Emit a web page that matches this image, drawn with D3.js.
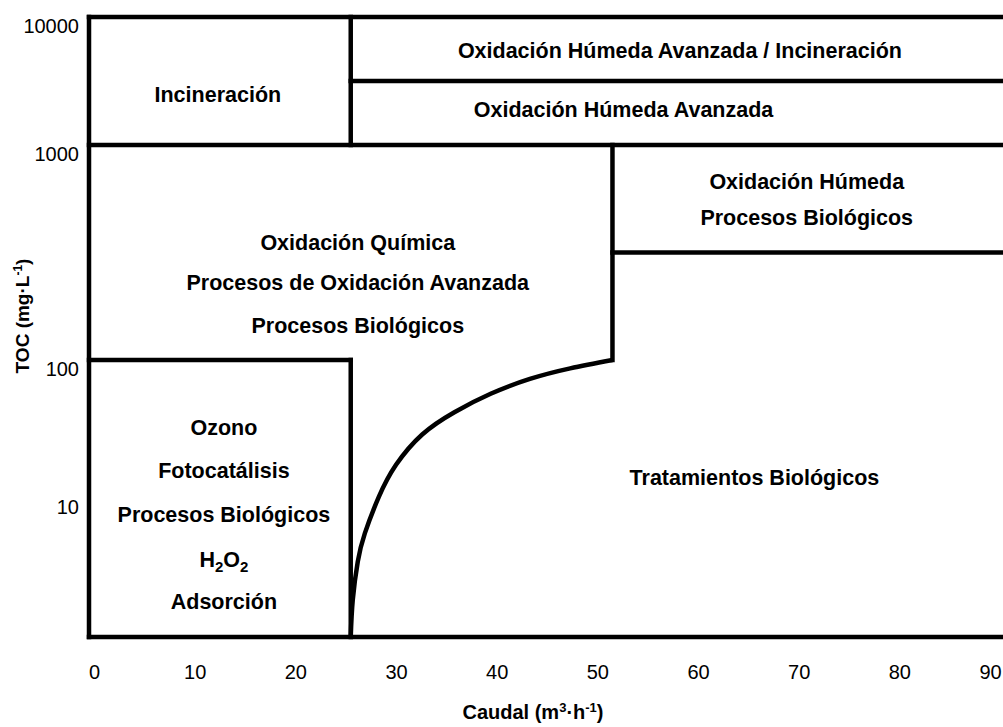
<html lang="es">
  <head>
    <meta charset="UTF-8" />
    <title>TOC vs Caudal</title>
    <script src="https://d3js.org/d3.v7.min.js"></script>
    <style>
      * {
        margin: 0;
        padding: 0;
      }
      body {
        background: #fff;
      }
      svg text {
        font-family: "Liberation Sans", Arial, sans-serif;
        fill: #000;
      }
    </style>
  </head>

  <body>
    <div id="chart"></div>
    <script>
      // axis ticks
      const caudalTicks = [0, 10, 20, 30, 40, 50, 60, 70, 80, 90];
      const tocTicks = [10, 100, 1000, 10000];

      // the frame runs past the right edge of the picture
      const caudalMax = 92;

      // region borders: [caudal1, toc1, caudal2, toc2]
      const borders = [
        [0, 1, 0, 10000],
        [0, 10000, caudalMax, 10000],
        [0, 1, caudalMax, 1],
        [26, 1000, 26, 10000],
        [26, 3162, caudalMax, 3162],
        [0, 1000, caudalMax, 1000],
        [52, 100, 52, 1000],
        [52, 316, caudalMax, 316],
        [0, 100, 26, 100],
        [26, 1, 26, 100],
      ];

      // curved border between the low-flow zone and biological treatment
      const curveCaudal = [26, 26.2, 26.7, 27.4, 28.8, 30.5, 33.1, 36.3, 39.9, 43.8, 47.8, 52];
      const curveToc = [1, 1.85, 3.5, 5.6, 10.3, 17.5, 29, 42, 57, 73, 87, 100];

      // region names, one entry per text line (anchor = baseline centre)
      const labelText = [
        "Incineración",
        "Oxidación Húmeda Avanzada / Incineración",
        "Oxidación Húmeda Avanzada",
        "Oxidación Húmeda",
        "Procesos Biológicos",
        "Oxidación Química",
        "Procesos de Oxidación Avanzada",
        "Procesos Biológicos",
        "Ozono",
        "Fotocatálisis",
        "Procesos Biológicos",
        "H2O2",
        "Adsorción",
        "Tratamientos Biológicos",
      ];
      const labelCaudal = [12.8, 58.7, 53.1, 71.3, 71.3, 26.7, 26.7, 26.7, 13.4, 13.4, 13.4, 13.4, 13.4, 66.1];
      const labelToc = [2168, 4786, 1656, 624, 424, 325, 212, 134, 28.7, 14.1, 6.77, 3.2, 1.59, 12.5];

      const width = 1003;
      const height = 727;

      const svg = d3
        .select("#chart")
        .append("svg")
        .attr("width", width)
        .attr("height", height);

      svg.append("rect").attr("width", width).attr("height", height).attr("fill", "#fff");

      const x = d3.scaleLinear().domain([0, 90]).range([89, 995]);

      // decades are not evenly spaced in the original drawing
      const yLog = d3.scaleLinear().domain([0, 2, 3, 4]).range([637, 360, 145, 17]);
      const y = (v) => yLog(Math.log10(v));

      // borders
      svg
        .append("g")
        .selectAll("line")
        .data(borders)
        .join("line")
        .attr("x1", (d) => x(d[0]))
        .attr("y1", (d) => y(d[1]))
        .attr("x2", (d) => x(d[2]))
        .attr("y2", (d) => y(d[3]))
        .attr("stroke", "#000")
        .attr("stroke-width", 4.5)
        .attr("stroke-linecap", "square");

      const curvePts = curveCaudal.map((c, i) => [c, curveToc[i]]);
      const line = d3
        .line()
        .x((d) => x(d[0]))
        .y((d) => y(d[1]))
        .curve(d3.curveNatural);

      svg
        .append("path")
        .attr("d", line(curvePts))
        .attr("fill", "none")
        .attr("stroke", "#000")
        .attr("stroke-width", 4.5);

      // region labels
      const labels = svg
        .append("g")
        .selectAll("text")
        .data(labelText)
        .join("text")
        .attr("x", (d, i) => x(labelCaudal[i]))
        .attr("y", (d, i) => y(labelToc[i]))
        .attr("text-anchor", "middle")
        .attr("font-size", 21.5)
        .attr("font-weight", "bold");

      labels.each(function (d) {
        const t = d3.select(this);
        if (d === "H2O2") {
          t.append("tspan").text("H");
          t.append("tspan").text("2").attr("font-size", 15).attr("dy", 5);
          t.append("tspan").text("O").attr("dy", -5);
          t.append("tspan").text("2").attr("font-size", 15).attr("dy", 5);
        } else {
          t.text(d);
        }
      });

      // x axis
      const axisX = svg
        .append("g")
        .attr("transform", `translate(5, ${y(1)})`)
        .call(d3.axisBottom(x).tickValues(caudalTicks).tickSize(0).tickPadding(28));
      axisX.select(".domain").remove();
      axisX
        .selectAll("text")
        .attr("font-size", 20)
        .attr("font-family", null)
        // keep the last label inside the picture
        .attr("dx", (d) => Math.min(0, width - 13 - (x(d) + 5)));

      // y axis
      const axisY = svg
        .append("g")
        .attr("transform", `translate(${x(0)}, 9)`)
        .call(
          d3
            .axisLeft(yLog)
            .tickValues(tocTicks.map((v) => Math.log10(v)))
            .tickFormat((d) => Math.round(Math.pow(10, d)))
            .tickSize(0)
            .tickPadding(10)
        );
      axisY.select(".domain").remove();
      axisY.selectAll("text").attr("font-size", 20).attr("font-family", null);

      // axis titles
      const xTitle = svg
        .append("text")
        .attr("x", 533)
        .attr("y", 719)
        .attr("text-anchor", "middle")
        .attr("font-size", 20)
        .attr("font-weight", "bold");
      xTitle.append("tspan").text("Caudal (m");
      xTitle.append("tspan").text("3").attr("font-size", 13).attr("dy", -7);
      xTitle.append("tspan").text("·h").attr("dy", 7);
      xTitle.append("tspan").text("-1").attr("font-size", 13).attr("dy", -7);
      xTitle.append("tspan").text(")").attr("dy", 7);

      const yTitle = svg
        .append("text")
        .attr("transform", "translate(29, 316) rotate(-90)")
        .attr("text-anchor", "middle")
        .attr("font-size", 19)
        .attr("font-weight", "bold");
      yTitle.append("tspan").text("TOC (mg·L");
      yTitle.append("tspan").text("-1").attr("font-size", 12).attr("dy", -7);
      yTitle.append("tspan").text(")").attr("dy", 7);
    </script>
  </body>
</html>
